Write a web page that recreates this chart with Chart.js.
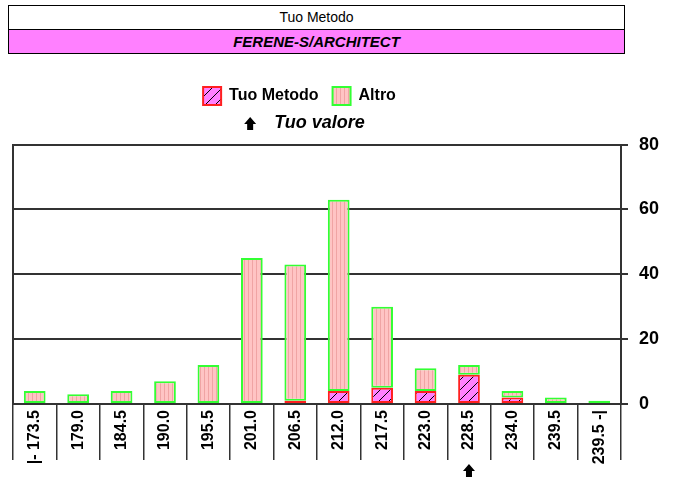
<!DOCTYPE html>
<html>
  <head>
    <title>Tuo Metodo</title>
    <style>
      body { margin: 0; background: #fff; font-family: "Liberation Sans", Arial, sans-serif; }
      #wrap { position: relative; width: 674px; height: 483px; }
      .hdr { position: absolute; left: 8px; width: 615px; height: 23px; border: 1px solid #000;
             text-align: center; font-size: 14px; line-height: 23px; color: #000; }
      #h1 { top: 5px; background: #fff; }
      #h2 { top: 29px; background: #ff80ff; font-weight: bold; font-style: italic; font-size: 15px; }
      canvas { position: absolute; left: 0; top: 0; }
    </style>
  </head>
  <body>
    <script src="https://cdn.jsdelivr.net/npm/chart.js"></script>

    <div id="wrap">
      <canvas id="myChart" width="674" height="483"></canvas>
      <div class="hdr" id="h1">Tuo Metodo</div>
      <div class="hdr" id="h2">FERENE-S/ARCHITECT</div>
    </div>

    <script>
      // class labels (bins)
      const labels = ['|- 173.5', '179.0', '184.5', '190.0', '195.5', '201.0', '206.5',
                      '212.0', '217.5', '223.0', '228.5', '234.0', '239.5', '239.5 -|'];
      // counts
      const tuoMetodo = [0, 0, 0, 0, 0, 0, 1, 4, 5, 4, 9, 2, 0, 0];
      const altro     = [4, 3, 4, 7, 12, 45, 42, 59, 25, 7, 3, 2, 2, 1];
      const yTicks = [0, 20, 40, 60, 80];
      const tuoValoreIndex = 10; // where "Tuo valore" falls

      const FONT = '"Liberation Sans", Arial';

      // striped fill for "Altro"
      function stripePattern() {
        const c = document.createElement('canvas');
        c.width = 4; c.height = 4;
        const g = c.getContext('2d');
        g.fillStyle = '#ffc4c4';
        g.fillRect(0, 0, 4, 4);
        g.fillStyle = '#f0a4a4';
        g.fillRect(0, 0, 1, 4);
        return g.createPattern(c, 'repeat');
      }

      // hatched fill for "Tuo Metodo"
      function hatchPattern() {
        const c = document.createElement('canvas');
        c.width = 10; c.height = 10;
        const g = c.getContext('2d');
        g.fillStyle = '#ff80ff';
        g.fillRect(0, 0, 10, 10);
        g.strokeStyle = '#000';
        g.lineWidth = 1;
        g.beginPath();
        g.moveTo(0, 10); g.lineTo(10, 0);
        g.moveTo(-5, 5); g.lineTo(5, -5);
        g.moveTo(5, 15); g.lineTo(15, 5);
        g.stroke();
        return g.createPattern(c, 'repeat');
      }

      // small filled up-arrow, (x, y) = top point
      function drawArrow(ctx, x, y) {
        ctx.beginPath();
        ctx.moveTo(x, y);
        ctx.lineTo(x + 6, y + 7);
        ctx.lineTo(x + 3, y + 7);
        ctx.lineTo(x + 3, y + 13);
        ctx.lineTo(x - 3, y + 13);
        ctx.lineTo(x - 3, y + 7);
        ctx.lineTo(x - 6, y + 7);
        ctx.closePath();
        ctx.fill();
      }

      // move legend + title a bit to the left like the original
      const shiftTop = {
        id: 'shiftTop',
        afterLayout(chart) {
          chart.legend.left -= 42; chart.legend.right -= 42;
          chart.titleBlock.left -= 22; chart.titleBlock.right -= 22;
        }
      };

      // arrows: next to "Tuo valore" and under its class
      const valueArrow = {
        id: 'valueArrow',
        afterDraw(chart) {
          const ctx = chart.ctx;
          const tb = chart.titleBlock;
          ctx.save();
          ctx.fillStyle = '#000';
          ctx.font = 'italic bold 18px ' + FONT;
          const w = ctx.measureText(tb.options.text).width;
          const cx = (tb.left + tb.right) / 2;
          drawArrow(ctx, cx - w / 2 - 24, tb.top + 2);
          const x = chart.scales.x.getPixelForValue(tuoValoreIndex);
          drawArrow(ctx, x, chart.chartArea.bottom + 60);
          ctx.restore();
        }
      };

      const ctx = document.getElementById('myChart').getContext('2d');
      const chart = new Chart(ctx, {
        type: 'bar',
        data: {
          labels: labels,
          datasets: [
            {
              label: 'Tuo Metodo',
              data: tuoMetodo,
              backgroundColor: hatchPattern(),
              borderColor: '#ff2020',
              borderWidth: 2,
              borderSkipped: false,
              barPercentage: 0.5,
              categoryPercentage: 1,
            },
            {
              label: 'Altro',
              data: altro,
              backgroundColor: stripePattern(),
              borderColor: '#33ff33',
              borderWidth: 2,
              borderSkipped: false,
              barPercentage: 0.5,
              categoryPercentage: 1,
            },
          ],
        },
        options: {
          responsive: false,
          animation: false,
          events: [],
          layout: { padding: { top: 73, left: 13, right: 4, bottom: 0 } },
          plugins: {
            legend: {
              position: 'top',
              labels: {
                color: '#000',
                font: { family: FONT, size: 16, weight: 'bold' },
                boxWidth: 18,
                boxHeight: 18,
                padding: 14,
              },
            },
            title: {
              display: true,
              text: 'Tuo valore',
              color: '#000',
              weight: 500,
              font: { family: FONT, size: 18, weight: 'bold', style: 'italic' },
              padding: { top: -3, bottom: 11 },
            },
            tooltip: { enabled: false },
          },
          scales: {
            x: {
              stacked: true,
              afterFit: (scale) => { scale.height = 79; },
              grid: {
                offset: true,
                drawOnChartArea: false,
                tickLength: 56,
                color: '#333',
                lineWidth: 1.5,
              },
              border: { color: '#333', width: 2 },
              ticks: {
                color: '#000',
                font: { family: FONT, size: 16, weight: 'bold' },
                minRotation: 90,
                maxRotation: 90,
                padding: -50,
                autoSkip: false,
              },
            },
            y: {
              stacked: true,
              position: 'right',
              min: 0,
              max: 80,
              afterBuildTicks: (scale) => { scale.ticks = yTicks.map(v => ({ value: v })); },
              grid: { color: '#333', lineWidth: 2, tickLength: 7 },
              border: { color: '#333', width: 2 },
              ticks: {
                color: '#000',
                font: { family: FONT, size: 18, weight: 'bold' },
                padding: 11,
              },
            },
            yl: {
              position: 'left',
              min: 0,
              max: 80,
              grid: { drawOnChartArea: false, drawTicks: false },
              border: { color: '#333', width: 2 },
              ticks: { display: false },
            },
          },
        },
        plugins: [shiftTop, valueArrow],
      });
    </script>
  </body>
</html>
